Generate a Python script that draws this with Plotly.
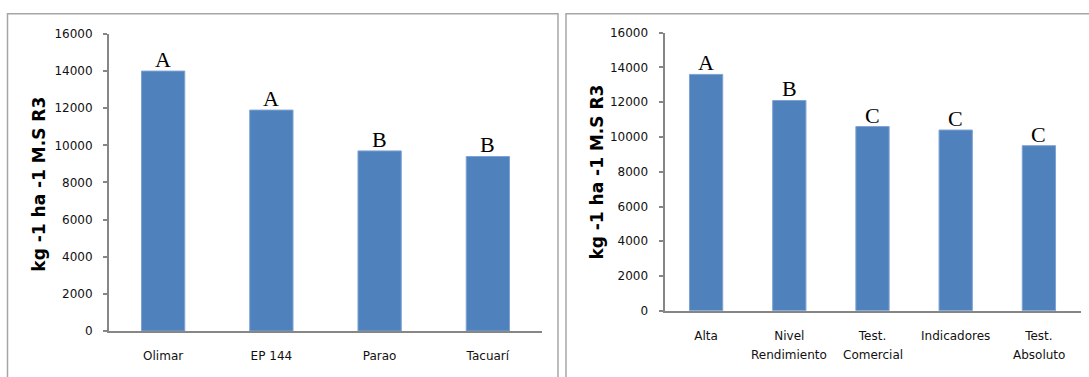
import plotly.graph_objects as go

# Yield by cultivar (left) and by fertilisation strategy (right)
cultivares = ["Olimar", "EP 144", "Parao", "Tacuarí"]
rend_cultivar = [14000, 11900, 9700, 9400]
letras_cultivar = ["A", "A", "B", "B"]

estrategias = ["Alta", "Nivel Rendimiento", "Test. Comercial", "Indicadores", "Test. Absoluto"]
estrategias_l1 = ["Alta", "Nivel", "Test.", "Indicadores", "Test."]
estrategias_l2 = ["", "Rendimiento", "Comercial", "", "Absoluto"]
rend_estrategia = [13600, 12100, 10600, 10400, 9500]
letras_estrategia = ["A", "B", "C", "C", "C"]

y_ticks = [0, 2000, 4000, 6000, 8000, 10000, 12000, 14000, 16000]
y_title = "kg -1 ha -1 M.S R3"

W, H = 1089, 377
BAR = "#4F81BD"
AXIS = "#868686"
TICK_FONT = dict(family="DejaVu Sans", size=12, color="#111111")
LETTER_FONT = dict(family="Liberation Serif", size=22, color="#000000")
TITLE_FONT = dict(family="DejaVu Sans", size=17, color="#000000")

def px_x(a, b):
    return [a / W, b / W]

def px_y(top, bottom):
    return [(H - bottom) / H, (H - top) / H]

fig = go.Figure()

bar_marker = dict(color=BAR, line=dict(color="#7FA3D3", width=1))
fig.add_trace(go.Bar(x=cultivares, y=rend_cultivar, marker=bar_marker,
                     xaxis="x", yaxis="y", showlegend=False))
fig.add_trace(go.Bar(x=estrategias, y=rend_estrategia, marker=bar_marker,
                     xaxis="x2", yaxis="y2", showlegend=False))

annotations = []
for cat, val, let in zip(cultivares, rend_cultivar, letras_cultivar):
    annotations.append(dict(x=cat, y=val, xref="x", yref="y", text=let, showarrow=False,
                            xanchor="center", yanchor="bottom", yshift=-3, font=LETTER_FONT))
for cat, val, let in zip(estrategias, rend_estrategia, letras_estrategia):
    annotations.append(dict(x=cat, y=val, xref="x2", yref="y2", text=let, showarrow=False,
                            xanchor="center", yanchor="bottom", yshift=-3, font=LETTER_FONT))

# second line of the two-line category names, set a little further apart than <br> would
for cat, line2 in zip(estrategias, estrategias_l2):
    if line2:
        annotations.append(dict(x=cat, y=(H - 361) / H, xref="x2", yref="paper", text=line2,
                                showarrow=False, xanchor="center", yanchor="middle",
                                font=TICK_FONT))

# rotated axis titles
for cx, cy in [(39.5, 184), (597, 172)]:
    annotations.append(dict(x=cx / W, y=(H - cy) / H, xref="paper", yref="paper",
                            text=f"<b>{y_title}</b>", textangle=-90, showarrow=False,
                            xanchor="center", yanchor="middle", font=TITLE_FONT))

xaxis_common = dict(type="category", showline=True, linecolor=AXIS, linewidth=2, ticks="outside",
                    ticklen=13, tickcolor="rgba(0,0,0,0)", tickfont=TICK_FONT, showgrid=False,
                    zeroline=False, fixedrange=True)
yaxis_common = dict(range=[0, 16000], tickvals=y_ticks, ticktext=[str(v) for v in y_ticks],
                    showline=True, linecolor=AXIS, linewidth=2,
                    ticks="outside", ticklen=4, tickcolor=AXIS, tickwidth=1.5, tickfont=TICK_FONT,
                    ticklabelstandoff=8, showgrid=False, zeroline=False, fixedrange=True)

fig.update_layout(
    width=W, height=H,
    margin=dict(l=0, r=0, t=0, b=0),
    paper_bgcolor="white", plot_bgcolor="white",
    bargap=0.6,
    xaxis=dict(domain=px_x(109, 542), anchor="y", **xaxis_common),
    yaxis=dict(domain=px_y(28, 336.5), anchor="x", **yaxis_common),
    xaxis2=dict(domain=px_x(664.5, 1080.5), anchor="y2", tickvals=estrategias, ticktext=estrategias_l1,
                **xaxis_common),
    yaxis2=dict(domain=px_y(26.7, 315.5), anchor="x2", **yaxis_common),
    annotations=annotations,
    shapes=[
        dict(type="rect", xref="paper", yref="paper", x0=7.5 / W, x1=558 / W, y0=-0.05, y1=(H - 7) / H,
             line=dict(color="#A6A6A6", width=1.5)),
        dict(type="rect", xref="paper", yref="paper", x0=566 / W, x1=1.05, y0=-0.05, y1=(H - 7) / H,
             line=dict(color="#A6A6A6", width=1.5)),
    ],
)

fig.write_html("out.html")
